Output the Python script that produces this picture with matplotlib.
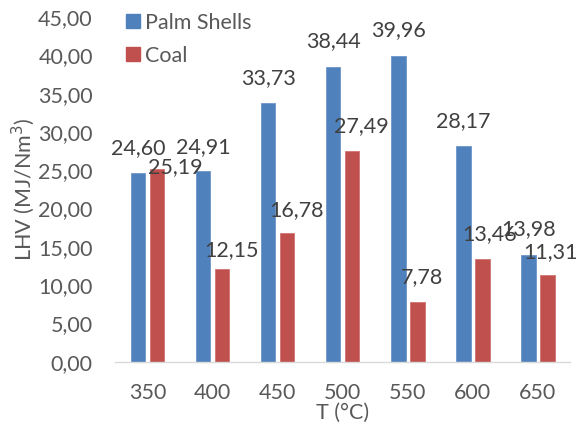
import matplotlib.pyplot as plt
import numpy as np
from matplotlib.lines import Line2D

temps = ['350', '400', '450', '500', '550', '600', '650']
palm_shells = [24.60, 24.91, 33.73, 38.44, 39.96, 28.17, 13.98]
coal = [25.19, 12.15, 16.78, 27.49, 7.78, 13.46, 11.31]

blue = '#4F81BD'
red = '#C0504D'
txt = '#404040'
grey = '#595959'

# label nudges in pixels (dx, dy of the text centre from the bar top)
palm_off = [(0, 25), (0, 24), (0, 25), (0, 26), (0, 26), (0, 25), (0, 26)]
coal_off = [(18, 2), (9, 19), (9, 23), (9, 25), (5, 25), (7, 25), (3, 23)]

plt.rcParams['font.family'] = ['Lato', 'DejaVu Sans']

fig = plt.figure(figsize=(5.77, 4.26), dpi=100)
ax = fig.add_axes([0.1993, 0.1509, 0.7894, 0.8092])

x = np.arange(len(temps))
w = 0.223
off = 0.146
ax.bar(x - off, palm_shells, w, color=blue, edgecolor='#6F95C8', linewidth=0.6)
ax.bar(x + off, coal, w, color=red, edgecolor='#D07370', linewidth=0.6)

fs = 15.5
for i in range(len(temps)):
    ax.annotate(f'{palm_shells[i]:.2f}'.replace('.', ','), (x[i] - off, palm_shells[i]),
                xytext=palm_off[i], textcoords='offset pixels',
                ha='center', va='center', fontsize=fs, color=txt)
    ax.annotate(f'{coal[i]:.2f}'.replace('.', ','), (x[i] + off, coal[i]),
                xytext=coal_off[i], textcoords='offset pixels',
                ha='center', va='center', fontsize=fs, color=txt)

ax.set_xlim(-0.5, len(temps) - 0.5)
ax.set_ylim(0, 45)
yt = np.arange(0, 46, 5)
ax.set_yticks(yt)
ax.set_yticklabels([f'{v:.2f}'.replace('.', ',') for v in yt])
ax.set_xticks(x)
ax.set_xticklabels(temps)
ax.tick_params(axis='both', length=0, labelsize=fs, labelcolor=grey)
ax.tick_params(axis='y', pad=16)
ax.tick_params(axis='x', pad=15)

for s in ['top', 'right', 'left']:
    ax.spines[s].set_visible(False)
ax.spines['bottom'].set_color('#D9D9D9')
ax.spines['bottom'].set_linewidth(1.0)

ax.set_xlabel('T (°C)', fontsize=fs, color=grey, labelpad=0)
ax.set_ylabel('LHV (MJ/Nm$^3$)', fontsize=fs, color=grey, labelpad=1)

handles = [Line2D([], [], marker='s', linestyle='none', markersize=9.5, color=blue),
           Line2D([], [], marker='s', linestyle='none', markersize=9.5, color=red)]
ax.legend(handles, ['Palm Shells', 'Coal'], loc='upper left',
          bbox_to_anchor=(114 / 577, 1 - 4 / 426), bbox_transform=fig.transFigure,
          frameon=False, fontsize=fs, labelcolor=grey, handletextpad=0.05,
          labelspacing=0.6, borderaxespad=0, handlelength=1.0)

fig.savefig('out.png', dpi=100)
